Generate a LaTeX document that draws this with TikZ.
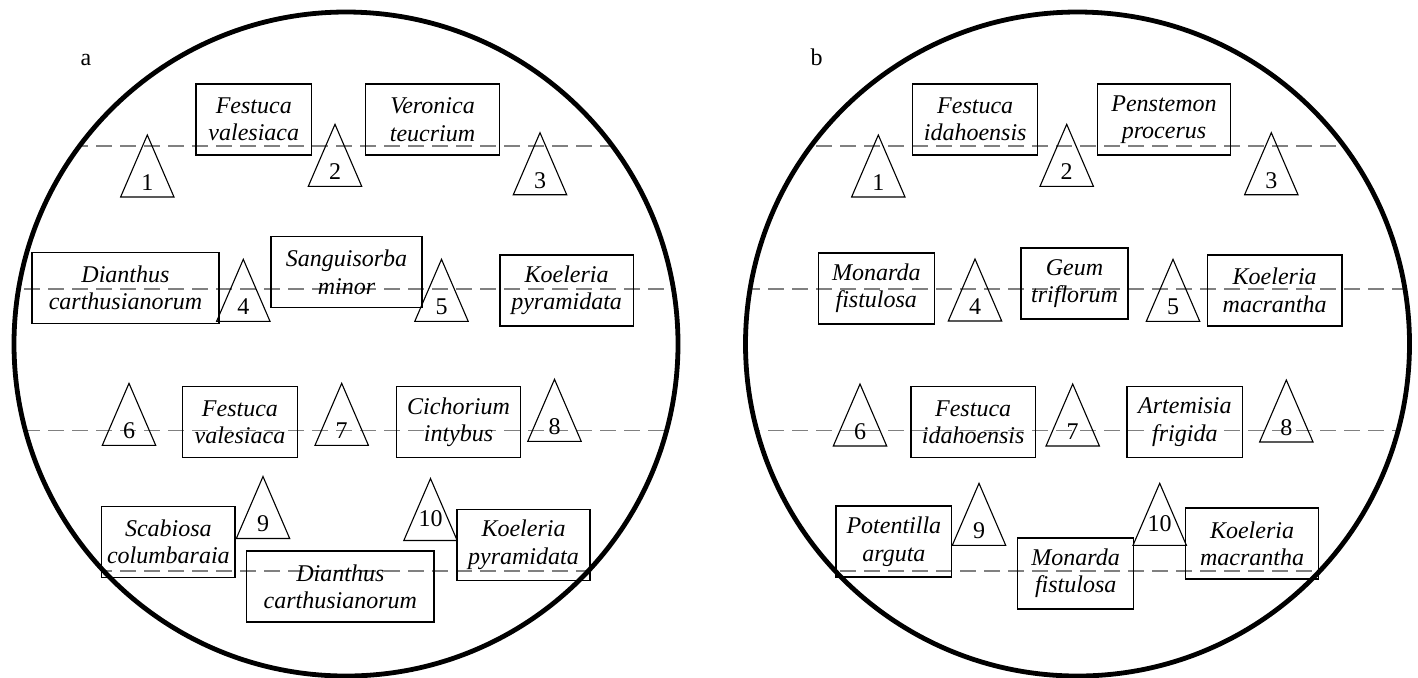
\documentclass[tikz,border=0pt]{standalone}
\usepackage{fontspec}
\setmainfont{Liberation Serif}
\tikzset{
  sp/.style={draw, line width=0.75pt, inner sep=0pt, align=center,
    font=\itshape\fontsize{12}{13.7}\selectfont, minimum height=35.5pt},
  tri/.style={draw, line width=0.55pt, line join=miter},
  num/.style={inner sep=0pt, font=\fontsize{12}{13}\selectfont},
  guide/.style={draw=black!50, line width=0.9pt, dash pattern=on 8pt off 4pt},
  rim/.style={draw, line width=2.4pt},
  lab/.style={inner sep=0pt, anchor=base, font=\fontsize{12}{14}\selectfont}
}
% name, apex x, apex y, label, label offset
\newcommand\mytri[5]{%
  \coordinate (#1) at (#2,#3);
  \draw[tri] (#1) -- ++(-26.7,62) -- ++(53.4,0) -- cycle;
  \node[num] (#1n) at (#2,#3+#5) {#4};}
% name, cx, cy, width(pt), line1, line2
\newcommand\mybox[6]{%
  \node[sp, minimum width=#4pt] (#1) at (#2,#3) {#5\\#6};}
\begin{document}
\begin{tikzpicture}[x=0.5pt,y=-0.5pt]
\useasboundingbox (0,0) rectangle (1418,677);
% circles
\coordinate (ca) at (346,344);
\coordinate (cb) at (1077.5,344);
% guide lines
\begin{scope}
  \clip (ca) circle[radius=166pt];
  \foreach \yy in {146,289,430.5,571} \draw[guide] (0,\yy) -- (720,\yy);
\end{scope}
\begin{scope}
  \clip (cb) circle[radius=166pt];
  \foreach \yy in {146,289,430.5,571} \draw[guide] (720,\yy) -- (1418,\yy);
\end{scope}
\draw[rim] (ca) circle[radius=166pt];
\draw[rim] (cb) circle[radius=166pt];
% labels
\node[lab] (la) at (86,65) {a};
\node[lab] (lb) at (816.7,65) {b};
% ---------- panel a ----------
\mybox{a1}{253.75}{119.5}{57.75}{Festuca}{valesiaca}
\mybox{a2}{432.5}{119.5}{66.8}{Veronica}{teucrium}
\mybox{a3}{125.5}{288}{93.5}{Dianthus}{carthusianorum}
\mybox{a4}{346.5}{272.2}{75.5}{Sanguisorba}{minor}
\mybox{a5}{566.65}{290.35}{66.65}{Koeleria}{pyramidata}
\mybox{a6}{239.95}{422}{57.65}{Festuca}{valesiaca}
\mybox{a7}{458.55}{422}{62.05}{Cichorium}{intybus}
\mybox{a8}{168.35}{542}{66.65}{Scabiosa}{columbaraia}
\mybox{a9}{340.35}{586.65}{93.65}{Dianthus}{carthusianorum}
\mybox{a10}{523.5}{544.9}{66.5}{Koeleria}{pyramidata}
\mytri{ta1}{147.3}{135}{1}{47.5}
\mytri{ta2}{335}{124.3}{2}{47.5}
\mytri{ta3}{540}{132.7}{3}{47.5}
\mytri{ta4}{243.3}{259.3}{4}{47.5}
\mytri{ta5}{441.5}{259.3}{5}{47.5}
\mytri{ta6}{129}{383.3}{6}{47.5}
\mytri{ta7}{341.7}{383.3}{7}{47.5}
\mytri{ta8}{554.5}{379.3}{8}{47.5}
\mytri{ta9}{263}{476.5}{9}{47.5}
\mytri{ta10}{430.5}{478.5}{10}{40}
% ---------- panel b ----------
\mybox{b1}{975.2}{119.5}{62.5}{Festuca}{idahoensis}
\mybox{b2}{1164}{119.5}{66.7}{Penstemon}{procerus}
\mybox{b3}{876.3}{288.35}{58}{Monarda}{fistulosa}
\mybox{b4}{1074.5}{283.35}{53.5}{Geum}{triflorum}
\mybox{b5}{1274.65}{290.35}{67.35}{Koeleria}{macrantha}
\mybox{b6}{973.15}{422}{62.15}{Festuca}{idahoensis}
\mybox{b7}{1184.85}{422}{57.85}{Artemisia}{frigida}
\mybox{b8}{893.85}{541.65}{57.85}{Potentilla}{arguta}
\mybox{b9}{1075.7}{573.35}{58}{Monarda}{fistulosa}
\mybox{b10}{1252}{543.65}{66.7}{Koeleria}{macrantha}
\mytri{tb1}{878.3}{135}{1}{47.5}
\mytri{tb2}{1066.7}{124.3}{2}{47.5}
\mytri{tb3}{1271.3}{132.7}{3}{47.5}
\mytri{tb4}{975}{259}{4}{47.5}
\mytri{tb5}{1173}{259.3}{5}{47.5}
\mytri{tb6}{860}{384}{6}{47.5}
\mytri{tb7}{1072.7}{384}{7}{47.5}
\mytri{tb8}{1286.3}{380}{8}{47.5}
\mytri{tb9}{979}{483.3}{9}{47.5}
\mytri{tb10}{1159.7}{483.3}{10}{40}
\end{tikzpicture}
\end{document}
